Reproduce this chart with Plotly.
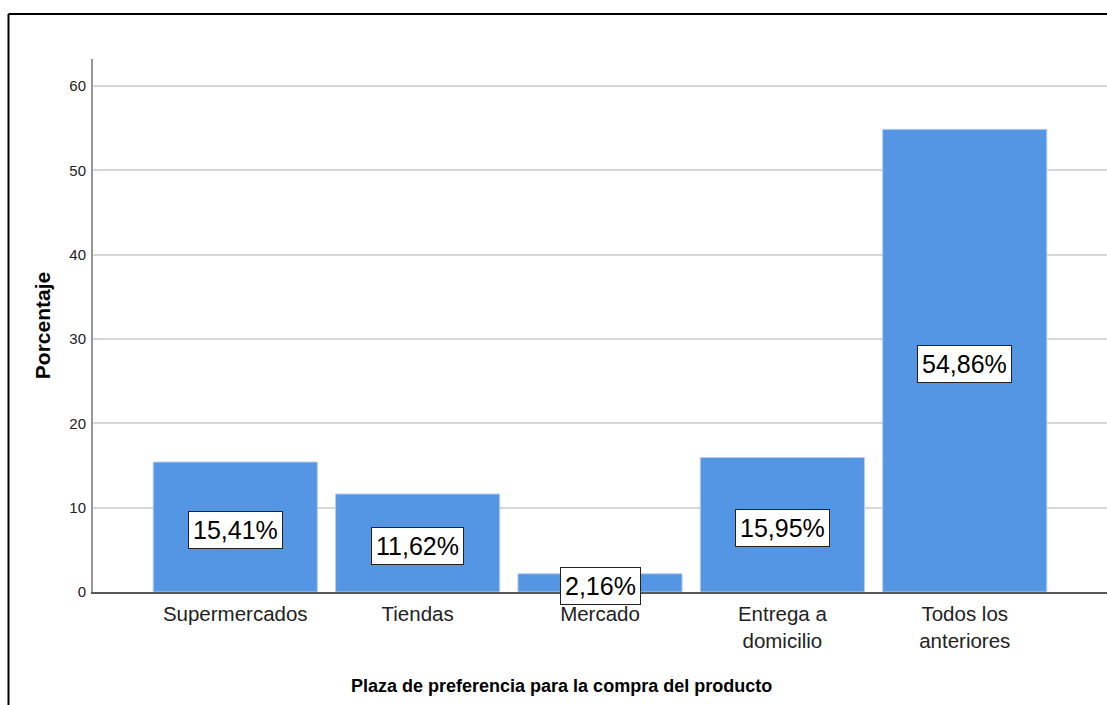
import plotly.graph_objects as go

# Preferred place to buy the product (percentage of respondents)
categorias = ["Supermercados", "Tiendas", "Mercado", "Entrega a<br>domicilio", "Todos los<br>anteriores"]
porcentajes = [15.41, 11.62, 2.16, 15.95, 54.86]
etiquetas = ["15,41%", "11,62%", "2,16%", "15,95%", "54,86%"]
y_ticks = [0, 10, 20, 30, 40, 50, 60]

W, H = 1107, 705
left, right, top, bottom = 93, 0, 59, 113

fig = go.Figure()
fig.add_trace(go.Bar(
    x=list(range(len(categorias))),
    y=porcentajes,
    marker=dict(color="rgb(84,149,228)", line=dict(color="rgb(180,205,240)", width=1)),
    width=0.9,
    hoverinfo="skip",
))

# Value labels: white boxes centred in each bar
for i, (v, t) in enumerate(zip(porcentajes, etiquetas)):
    fig.add_annotation(
        x=i, y=v / 2, text=t, showarrow=False, yshift=-3,
        font=dict(family="Liberation Sans, Arial", size=25, color="black"),
        bgcolor="white", bordercolor="#222", borderwidth=1, borderpad=4,
    )

pw = W - left - right
ph = H - top - bottom

# Horizontal-axis title, centred under the category labels
fig.add_annotation(
    xref="paper", yref="paper", x=(561 - left) / pw, y=-(686 - top - ph) / ph,
    text="<b>Plaza de preferencia para la compra del producto</b>", showarrow=False,
    font=dict(family="Liberation Sans, Arial", size=18, color="black"),
    xanchor="center", yanchor="middle",
)

# Outer frame of the chart region (top and left edges)
fx = (8.5 - left) / pw
fy = (ph + top - 14) / ph
fig.add_shape(type="line", xref="paper", yref="paper", x0=fx, x1=1.2, y0=fy, y1=fy,
              line=dict(color="black", width=2))
fig.add_shape(type="line", xref="paper", yref="paper", x0=fx, x1=fx, y0=fy, y1=-0.5,
              line=dict(color="black", width=2))

fig.update_layout(
    width=W, height=H,
    margin=dict(l=left, r=right, t=top, b=bottom, pad=0),
    paper_bgcolor="white", plot_bgcolor="white",
    showlegend=False,
    font=dict(family="Liberation Sans, Arial", color="black"),
    xaxis=dict(
        range=[-0.78, 4.78],
        tickmode="array", tickvals=list(range(len(categorias))), ticktext=categorias,
        tickfont=dict(size=20.5, color="#222"),
        ticks="", showgrid=False, zeroline=False,
        showline=True, linecolor="rgb(90,90,90)", linewidth=1.5,
        ticklabelstandoff=3,
    ),
    yaxis=dict(
        range=[0, 63.2],
        tickmode="array", tickvals=y_ticks, ticktext=[str(t) for t in y_ticks],
        tickfont=dict(family="Liberation Sans, Arial", size=15, color="#222"),
        ticks="", showgrid=True, gridcolor="rgb(215,215,215)", gridwidth=1.5,
        zeroline=False,
        showline=True, linecolor="rgb(150,150,150)", linewidth=2,
        ticklabelstandoff=2,
        title=dict(text="<b>Porcentaje</b>", font=dict(size=21, color="black"), standoff=13),
    ),
)

fig.write_html("out.html")
